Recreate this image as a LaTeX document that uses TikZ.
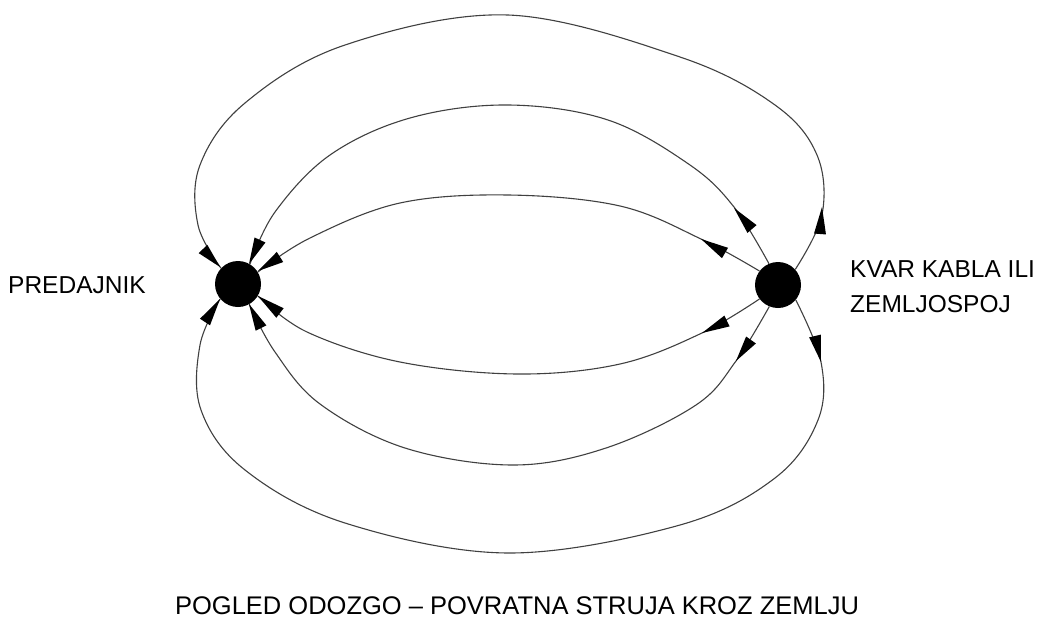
\documentclass[tikz,border=0pt]{standalone}
\usepackage{fontspec}
\setmainfont{Liberation Sans}
\usetikzlibrary{calc}
\newcommand\arrhead[2]{\fill[black] (#2) -- ($(#1)!6pt!90:(#2)$) -- ($(#1)!6pt!-90:(#2)$) -- cycle;}
\begin{document}
\begin{tikzpicture}[x=1pt,y=-1pt,
  dot/.style={circle,fill=black,draw=none,minimum size=46pt,inner sep=0pt},
  lbl/.style={inner sep=0pt,anchor=base west,font=\fontsize{24.5}{29}\selectfont},
  flux/.style={line width=1.1pt,draw=black!75},
]
\useasboundingbox (0,0) rectangle (1045,621);
\node[dot] (L) at (238,284) {};
\node[dot] (R) at (778,285) {};
\node[lbl] (pred) at (8,293) {PREDAJNIK};
\node[lbl] (kvar) at (850,277) {KVAR KABLA ILI};
\node[lbl] (zem) at (850,312) {ZEMLJOSPOJ};
\node[inner sep=0pt,anchor=base,font=\fontsize{25.5}{30}\selectfont] (cap) at (517,614) {POGLED ODOZGO – POVRATNA STRUJA KROZ ZEMLJU};
% top curves
\draw[flux] plot[smooth,tension=0.6] coordinates {(R.42) (822,215) (817,155) (775,105) (680,57) (508,15) (345,45) (245,103) (200,165) (198,225) (L.137)};
\draw[flux] plot[smooth,tension=0.6] coordinates {(R.113) (734,207) (690,165) (608,120) (508,105) (410,118) (330,155) (275,212) (L.59)};
\draw[flux] plot[smooth,tension=0.6] coordinates {(R.143) (701,239) (620,206) (508,195) (400,203) (310,238) (L.31)};
% bottom curves
\draw[flux] plot[smooth,tension=0.6] coordinates {(R.-40) (821,362) (818,420) (775,478) (680,525) (508,553) (345,523) (245,470) (201,410) (200,345) (L.-140)};
\draw[flux] plot[smooth,tension=0.6] coordinates {(R.-112) (736,361) (696,405) (606,448) (513,465) (405,448) (320,404) (275,352) (L.-61)};
\draw[flux] plot[smooth,tension=0.6] coordinates {(R.-143) (702,333) (620,364) (517,374) (400,362) (307,332) (L.-31)};
% arrowheads near the fault
\arrhead{820,234}{822,207}
\arrhead{752,229}{734,208}
\arrhead{725,253}{701,239}
\arrhead{815,336}{821,362}
\arrhead{751,340}{736,361}
\arrhead{727,321}{702,333}
% arrowheads at the transmitter
\arrhead{203,249}{220,267}
\arrhead{260,240}{249,264}
\arrhead{280,257}{258,271}
\arrhead{205,322}{220,299}
\arrhead{261,328}{249,304}
\arrhead{280,313}{258,296}
\end{tikzpicture}
\end{document}
